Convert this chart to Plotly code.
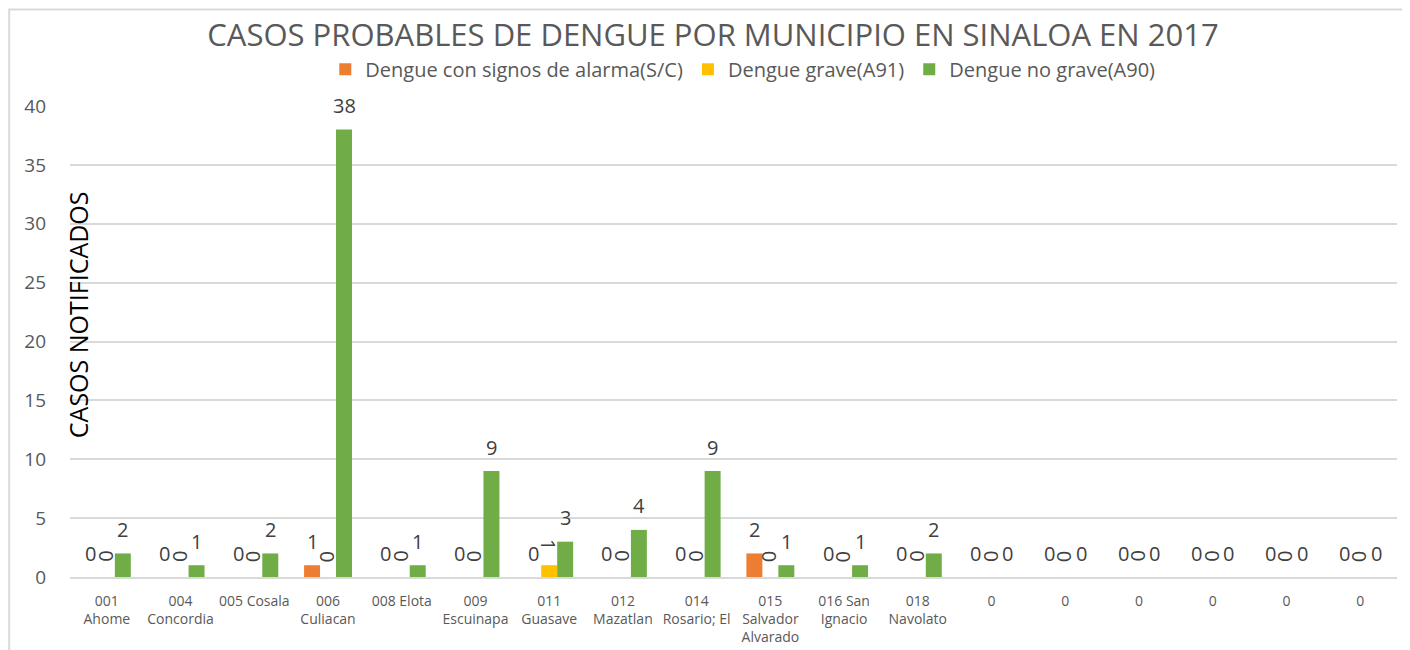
import plotly.graph_objects as go

categories = ["001<br>Ahome", "004<br>Concordia", "005 Cosala", "006<br>Culiacan", "008 Elota",
              "009<br>Escuinapa", "011<br>Guasave", "012<br>Mazatlan", "014<br>Rosario; El",
              "015<br>Salvador<br>Alvarado", "016 San<br>Ignacio", "018<br>Navolato",
              "0", "0", "0", "0", "0", "0"]
alarma_sc = [0, 0, 0, 1, 0, 0, 0, 0, 0, 2, 0, 0, 0, 0, 0, 0, 0, 0]
grave_a91 = [0, 0, 0, 0, 0, 0, 1, 0, 0, 0, 0, 0, 0, 0, 0, 0, 0, 0]
no_grave_a90 = [2, 1, 2, 38, 1, 9, 3, 4, 9, 1, 1, 2, 0, 0, 0, 0, 0, 0]
y_ticks = [0, 5, 10, 15, 20, 25, 30, 35, 40]

series = [
    ("Dengue con signos de alarma(S/C)", alarma_sc, "#ED7D31", 0),
    ("Dengue grave(A91)", grave_a91, "#FFC000", 90),
    ("Dengue no grave(A90)", no_grave_a90, "#70AD47", 0),
]

BARGAP = 0.35
n_series = len(series)
bar_w = (1 - BARGAP) / n_series
xs = list(range(len(categories)))

fig = go.Figure()
annotations = []
for k, (name, vals, color, ang) in enumerate(series):
    fig.add_trace(go.Bar(x=xs, y=vals, name=name, marker_color=color,
                         marker_line_width=0))
    off = (k - (n_series - 1) / 2) * bar_w
    for i, v in enumerate(vals):
        annotations.append(dict(
            x=i + off, y=v, xref="x", yref="y", text=str(v), showarrow=False,
            textangle=ang, yanchor="middle", xanchor="center",
            yshift=24 if ang == 0 else 21,
            font=dict(family="Open Sans", size=20, color="#404040")))

annotations.append(dict(
    x=0.006, y=0.558, xref="paper", yref="paper", text="CASOS NOTIFICADOS",
    showarrow=False, textangle=-90, xanchor="center", yanchor="middle",
    font=dict(family="Open Sans", size=25, color="#000000")))

fig.update_layout(
    width=1410, height=650,
    margin=dict(l=62, r=21, t=98, b=79),
    paper_bgcolor="white", plot_bgcolor="white",
    barmode="group", bargap=BARGAP, bargroupgap=0,
    title=dict(text="CASOS PROBABLES DE DENGUE POR MUNICIPIO EN SINALOA EN 2017",
               x=0.5, xanchor="center", y=0.958, yanchor="middle",
               font=dict(family="Open Sans", size=31, color="#595959")),
    legend=dict(orientation="h", x=0.507, xanchor="center", y=1.078, yanchor="middle",
                font=dict(family="Open Sans", size=20, color="#595959"),
                bgcolor="rgba(0,0,0,0)", itemclick=False, tracegroupgap=0),
    xaxis=dict(tickmode="array", tickvals=xs, ticktext=categories,
               range=[-0.5, len(categories) - 0.5], showgrid=False,
               showline=True, linecolor="#d9d9d9", linewidth=1.5, ticks="",
               ticklabelstandoff=10,
               tickfont=dict(family="Open Sans", size=14, color="#595959"),
               zeroline=False),
    yaxis=dict(range=[0, 40], tickvals=y_ticks, showgrid=True, gridcolor="#d9d9d9",
               gridwidth=1.5, zeroline=False, ticks="", ticklabelstandoff=23,
               tickfont=dict(family="Open Sans", size=19, color="#595959")),
    annotations=annotations,
    shapes=[dict(type="rect", xref="paper", yref="paper",
                 x0=-0.0458, x1=1.0083, y0=-0.2, y1=1.205,
                 line=dict(color="#d9d9d9", width=2), fillcolor="rgba(0,0,0,0)",
                 layer="below")],
)

fig.write_html("out.html")
